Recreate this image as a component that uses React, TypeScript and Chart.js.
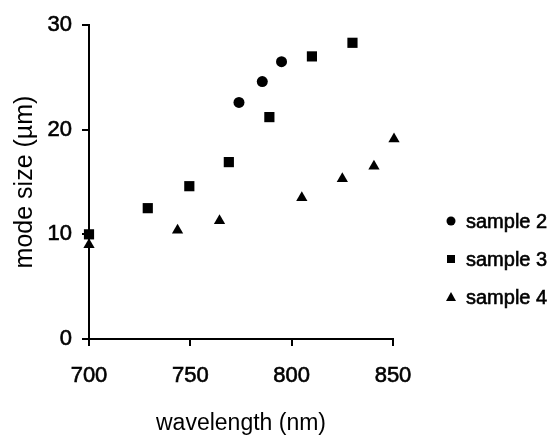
import React, { useEffect, useRef } from "react";
import { Chart, registerables } from "chart.js";

Chart.register(...registerables);

// ---- data ----
const sample2X = [774, 785.5, 795];
const sample2Y = [22.6, 24.6, 26.5];
const sample3X = [700, 729, 749.5, 769, 789, 810, 830];
const sample3Y = [10.0, 12.5, 14.6, 16.9, 21.2, 27.0, 28.3];
const sample4X = [700, 743.7, 764.4, 805, 825, 840.6, 850.5];
const sample4Y = [9.0, 10.4, 11.3, 13.5, 15.3, 16.5, 19.1];
const seriesNames = ["sample 2", "sample 3", "sample 4"];
const xTicks = [700, 750, 800, 850];
const yTicks = [0, 10, 20, 30];
const xTitle = "wavelength (nm)";
const yTitle = "mode size (µm)";

const FONT = "'Liberation Sans', Arial, Helvetica, sans-serif";

function toPoints(xs: number[], ys: number[]) {
  return xs.map((x, i) => ({ x, y: ys[i] }));
}

function drawMarker(ctx: CanvasRenderingContext2D, style: string, x: number, y: number) {
  ctx.beginPath();
  if (style === "circle") {
    ctx.arc(x, y, 4.5, 0, Math.PI * 2);
  } else if (style === "rect") {
    ctx.rect(x - 4, y - 4, 8, 8);
  } else {
    ctx.moveTo(x, y - 5);
    ctx.lineTo(x + 5, y + 4);
    ctx.lineTo(x - 5, y + 4);
    ctx.closePath();
  }
  ctx.fill();
}

const sideLegend = {
  id: "sideLegend",
  afterDraw(chart: any) {
    const ctx = chart.ctx as CanvasRenderingContext2D;
    ctx.save();
    ctx.fillStyle = "#000";
    ctx.strokeStyle = "#000";
    ctx.lineWidth = 0.6;
    ctx.font = `20px ${FONT}`;
    ctx.textAlign = "left";
    ctx.textBaseline = "middle";
    chart.data.datasets.forEach((ds: any, i: number) => {
      const y = 221 + i * 38;
      drawMarker(ctx, ds.pointStyle, 451, y);
      ctx.fillText(ds.label, 466, y + 1);
      ctx.strokeText(ds.label, 466, y + 1);
    });
    ctx.restore();
  },
};

export default function App() {
  const ref = useRef<HTMLCanvasElement | null>(null);
  useEffect(() => {
    if (!ref.current) return;
    const axisGrid = {
      display: true,
      drawOnChartArea: false,
      drawTicks: true,
      tickLength: 7,
      color: "#000",
      lineWidth: 2,
    };
    const chart = new Chart(ref.current, {
      type: "scatter",
      data: {
        datasets: [
          {
            label: seriesNames[0],
            data: toPoints(sample2X, sample2Y),
            pointStyle: "circle",
            pointRadius: 5.5,
            backgroundColor: "#000",
            borderColor: "#000",
            borderWidth: 0,
          },
          {
            label: seriesNames[1],
            data: toPoints(sample3X, sample3Y),
            pointStyle: "rect",
            pointRadius: 7.2,
            backgroundColor: "#000",
            borderColor: "#000",
            borderWidth: 0,
          },
          {
            label: seriesNames[2],
            data: toPoints(sample4X, sample4Y),
            pointStyle: "triangle",
            pointRadius: 6.5,
            backgroundColor: "#000",
            borderColor: "#000",
            borderWidth: 0,
          },
        ] as any,
      },
      options: {
        responsive: false,
        animation: false,
        clip: false as any,
        events: [],
        layout: { padding: { left: 0, top: 25, right: 166, bottom: 0 } },
        plugins: { legend: { display: false }, tooltip: { enabled: false } },
        scales: {
          x: {
            type: "linear",
            min: 700,
            max: 850,
            afterFit: (s: any) => {
              s.height = 102;
            },
            afterBuildTicks: (s: any) => {
              s.ticks = xTicks.map((v) => ({ value: v }));
            },
            ticks: {
              color: "#000",
              font: { family: FONT, size: 22 },
              padding: 17,
              maxRotation: 0,
              textStrokeColor: "#000",
              textStrokeWidth: 0.6,
            },
            grid: axisGrid as any,
            border: { display: true, color: "#000", width: 2 },
            title: {
              display: true,
              text: xTitle,
              color: "#000",
              font: { family: FONT, size: 23 },
              padding: { top: 0, bottom: 4 },
            },
          },
          y: {
            type: "linear",
            min: 0,
            max: 30,
            afterFit: (s: any) => {
              s.width = 89;
            },
            afterBuildTicks: (s: any) => {
              s.ticks = yTicks.map((v) => ({ value: v }));
            },
            ticks: {
              color: "#000",
              font: { family: FONT, size: 22 },
              padding: 10,
              textStrokeColor: "#000",
              textStrokeWidth: 0.6,
            },
            grid: axisGrid as any,
            border: { display: true, color: "#000", width: 2 },
            title: {
              display: true,
              text: yTitle,
              color: "#000",
              font: { family: FONT, size: 25 },
              padding: { top: 10, bottom: 0 },
            },
          },
        },
      },
      plugins: [sideLegend as any],
    });
    return () => chart.destroy();
  }, []);
  return (
    <div style={{ position: "absolute", left: 0, top: 0, width: 559, height: 441, background: "#fff" }}>
      <canvas ref={ref} width={559} height={441} style={{ width: 559, height: 441, display: "block" }} />
    </div>
  );
}
